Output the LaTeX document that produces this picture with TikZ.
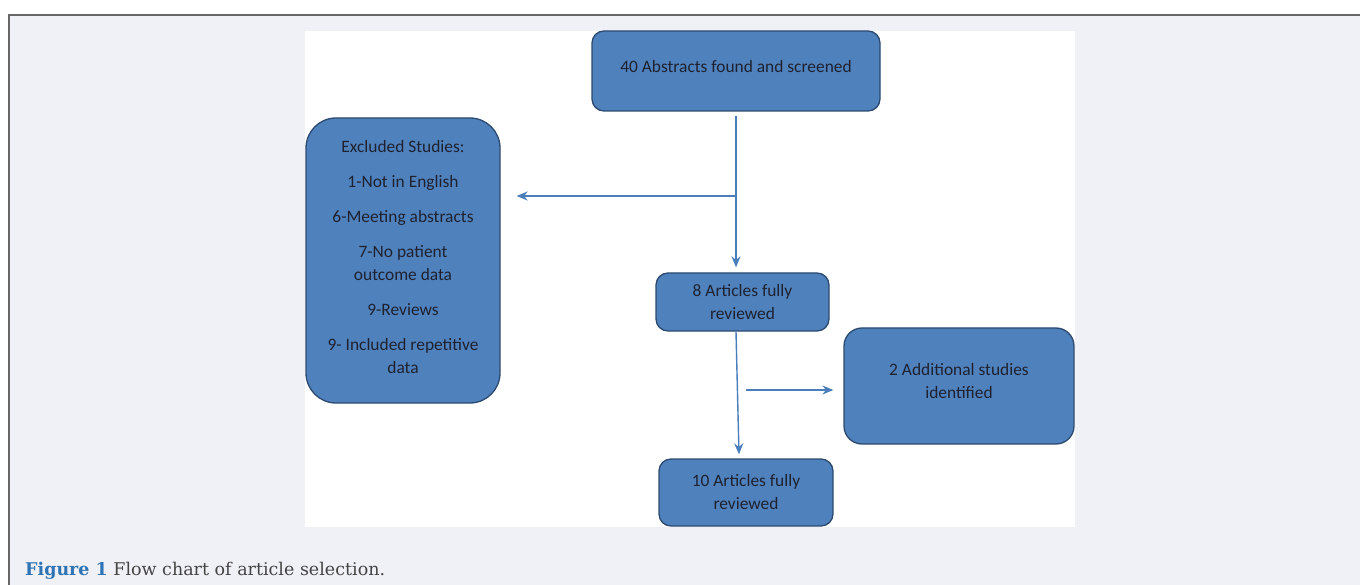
\documentclass[tikz,border=0pt]{standalone}
\usepackage{fontspec}
\setmainfont{Carlito}
\newfontfamily\captionfont{DejaVu Serif}
\usetikzlibrary{arrows.meta}
\definecolor{boxfill}{HTML}{4F81BD}
\definecolor{boxline}{HTML}{2C4A70}
\definecolor{boxtext}{HTML}{1E2230}
\definecolor{flowline}{HTML}{4A7EBB}
\definecolor{pagebg}{HTML}{F0F1F6}
\definecolor{frameline}{HTML}{666666}
\definecolor{figblue}{HTML}{2E74B5}
\definecolor{captext}{HTML}{444444}

\begin{document}
\begin{tikzpicture}[x=1pt, y=-1pt,
	box/.style={draw=boxline, line width=1.3pt, fill=boxfill, rounded corners=12pt, align=center, text=boxtext, font=\fontsize{17.4}{23}\selectfont, inner sep=0pt},
	flow/.style={draw=flowline, line width=1.4pt, -{Stealth[length=11pt,width=9pt]}}]
	\useasboundingbox (0,0) rectangle (1360,585);
	\fill[white] (0,0) rectangle (1360,585);
	\fill[pagebg] (9,15) rectangle (1360,585);
	\draw[frameline, line width=1.5pt] (9,585) -- (9,15) -- (1360,15);
	\fill[white] (305,31) rectangle (1075,527);
	% boxes
	\node[box, minimum width=288pt, minimum height=80pt] (top) at (736,71) {40 Abstracts found and screened\\[-14pt]};
	\node[box, rounded corners=30pt, minimum width=194pt, minimum height=285pt] (excl) at (403,260.5) {Excluded Studies:\\[12pt] 1-Not in English\\[12pt] 6-Meeting abstracts\\[12pt] 7-No patient\\ outcome data\\[12pt] 9-Reviews\\[12pt] 9- Included repetitive\\ data\\[-15pt]};
	\node[box, minimum width=173pt, minimum height=58pt] (art8) at (742.5,302) {8 Articles fully\\ reviewed};
	\node[box, rounded corners=18pt, minimum width=230pt, minimum height=116pt] (add2) at (959,386) {2 Additional studies\\ identified\\[-12pt]};
	\node[box, minimum width=174pt, minimum height=67pt] (art10) at (746,492.5) {10 Articles fully\\ reviewed};
	% connectors
	\coordinate (split1) at (736,196);
	\coordinate (split2) at (746,390);
	\draw[flow] ([yshift=-4pt]top.south) -- ([yshift=5pt]top.south |- art8.north);
	\draw[flow] (split1) -- ([xshift=16pt]excl.east |- split1);
	\draw[flow] ([xshift=-6.5pt]art8.south) -- ([xshift=-7pt,yshift=4pt]art10.north);
	\draw[flow] (split2) -- ([xshift=-10pt]add2.west |- split2);
	% caption
	\node[anchor=base west, inner sep=0pt, font=\captionfont\fontsize{17.5}{20}\selectfont, text=captext] (cap) at (25,575) {\textcolor{figblue}{\bfseries Figure 1} Flow chart of article selection.};
\end{tikzpicture}
\end{document}
